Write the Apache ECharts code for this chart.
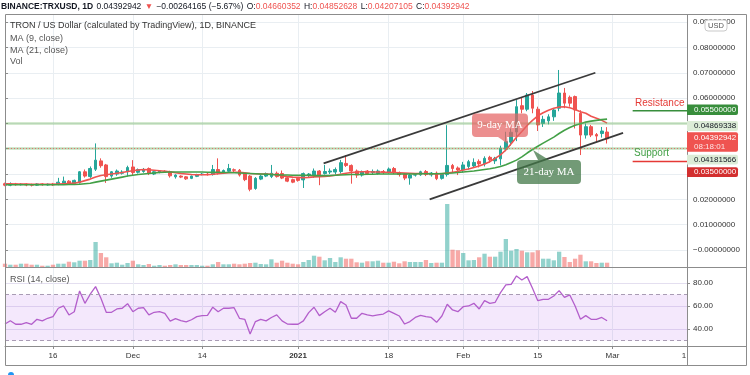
<!DOCTYPE html>
<html><head><meta charset="utf-8">
<script src="https://cdn.jsdelivr.net/npm/echarts@6/dist/echarts.min.js"></script>
<style>html,body{margin:0;padding:0;background:#fff}#c{width:750px;height:375px}</style>
</head><body><div id="c"></div>
<script>
// ---------- DATA ----------
const firstDay = [2020, 10, 7];        // 7 Nov 2020
const slotCount = 129;                 // 7 Nov 2020 .. 15 Mar 2021
const tickDates  = ['2020-11-16','2020-12-01','2020-12-14','2021-01-01','2021-01-18','2021-02-01','2021-02-15','2021-03-01','2021-03-15'];
const tickLabels = ['16','Dec','14','2021','18','Feb','15','Mar','1'];

const opens = [.0262,.0256,.0261,.0258,.0260,.0258,.0256,.0261,.0257,.0260,.0259,.0264,.0272,.0263,.0266,.0309,.0290,.0319,.0352,.0336,
.0292,.0300,.0303,.0309,.0328,.0307,.0310,.0322,.0300,.0308,.0311,.0310,.0289,.0292,.0289,.0283,.0291,.0298,.0300,.0298,
.0318,.0306,.0311,.0317,.0315,.0302,.0292,.0243,.0280,.0292,.0290,.0303,.0302,.0285,.0278,.0283,.0277,.0294,.0296,.0312,
.0302,.0308,.0308,.0310,.0342,.0334,.0312,.0296,.0312,.0306,.0302,.0310,.0308,.0322,.0306,.0300,.0284,.0296,.0297,.0310,
.0297,.0304,.0283,.0298,.0334,.0324,.0316,.0330,.0332,.0350,.0340,.0366,.0352,.0360,.0398,.0426,.0466,.0570,.0556,.0612,
.0556,.0500,.0510,.0526,.0560,.0620,.0603,.0606,.0540,.0454,.0487,.0456,.0460,.04660352];
const closes = [.0256,.0261,.0258,.0260,.0257,.0256,.0261,.0258,.0260,.0257,.0268,.0272,.0262,.0275,.0309,.0292,.0322,.0355,.0333,.0290,
.0309,.0312,.0308,.0326,.0306,.0318,.0318,.0303,.0309,.0312,.0310,.0293,.0296,.0288,.0281,.0292,.0298,.0300,.0298,.0318,
.0305,.0314,.0322,.0315,.0296,.0278,.0240,.0283,.0292,.0302,.0303,.0290,.0284,.0272,.0268,.0275,.0302,.0300,.0312,.0290,
.0310,.0312,.0318,.0345,.0334,.0312,.0296,.0309,.0302,.0310,.0312,.0308,.0320,.0306,.0298,.0284,.0296,.0297,.0309,.0298,
.0304,.0282,.0299,.0334,.0322,.0316,.0336,.0349,.0346,.0340,.0362,.0356,.0362,.0402,.0428,.0465,.0566,.0556,.0612,.0560,
.0494,.0516,.0526,.0553,.0620,.0580,.0580,.0553,.0454,.0487,.0454,.0450,.0470,.04392942];
const lows = [.0252,.0252,.0254,.0255,.0252,.0251,.0253,.0254,.0254,.0253,.0256,.0258,.0258,.0260,.0262,.0286,.0285,.0312,.0325,.0265,
.0285,.0293,.0298,.0290,.0296,.0302,.0305,.0296,.0296,.0303,.0305,.0286,.0282,.0284,.0277,.0280,.0288,.0295,.0294,.0294,
.0298,.0300,.0306,.0308,.0290,.0272,.0232,.0238,.0276,.0288,.0284,.0286,.0280,.0268,.0264,.0270,.0245,.0288,.0285,.0256,
.0298,.0300,.0298,.0302,.0328,.0262,.0285,.0290,.0296,.0298,.0298,.0300,.0302,.0300,.0290,.0276,.0258,.0290,.0293,.0292,
.0290,.0276,.0278,.0290,.0306,.0296,.0306,.0318,.0326,.0326,.0330,.0346,.0340,.0334,.0390,.0412,.0430,.0540,.0548,.0540,
.0470,.0486,.0496,.0510,.0548,.0560,.0566,.0480,.0375,.0440,.0446,.0428,.0444,.04207105];
const highs = [.0266,.0267,.0265,.0264,.0263,.0262,.0264,.0264,.0263,.0265,.0285,.0290,.0276,.0278,.0312,.0318,.0330,.0421,.0362,.0340,
.0312,.0318,.0315,.0333,.0355,.0322,.0324,.0326,.0314,.0316,.0315,.0313,.0299,.0295,.0292,.0294,.0301,.0304,.0305,.0336,
.0362,.0318,.0340,.0322,.0320,.0306,.0296,.0288,.0296,.0306,.0336,.0310,.0314,.0289,.0282,.0287,.0306,.0304,.0322,.0316,
.0336,.0322,.0326,.0356,.0375,.0338,.0318,.0314,.0316,.0318,.0318,.0316,.0326,.0328,.0310,.0304,.0300,.0302,.0313,.0316,
.0308,.0310,.0304,.0493,.0340,.0330,.0348,.0356,.0362,.0358,.0370,.0372,.0368,.0412,.0467,.0480,.0592,.0602,.0620,.0628,
.0566,.0530,.0536,.0560,.0711,.0640,.0610,.0610,.0552,.0500,.0494,.0462,.0486,.04852628];
const ma9 = [.0262,.0262,.0261,.0261,.0261,.0260,.0260,.0260,.0260,.0260,.0261,.0262,.0263,.0264,
.0268,.0274,.0280,.0288,.0294,.0297,.0300,.0303,.0306,.0310,.0313,.0316,.0318,.0317,
.0315,.0313,.0311,.0309,.0305,.0302,.0300,.0298,.0297,.0297,.0297,.0299,.0301,.0303,
.0305,.0307,.0307,.0305,.0302,.0301,.0300,.0300,.0299,.0296,.0293,.0290,.0288,.0287,
.0286,.0287,.0289,.0290,.0291,.0293,.0295,.0299,.0303,.0306,.0308,.0309,.0309,.0308,
.0308,.0307,.0307,.0306,.0305,.0304,.0303,.0302,.0302,.0302,.0301,.0300,.0301,.0304,
.0307,.0310,.0316,.0320,.0326,.0332,.0340,.0349,.0362,.0376,.0395,.0420,.0445,.0468,.0492,.0512,
.0530,.0542,.0552,.0560,.0565,.0566,.0562,.0555,.0546,.0540,.0528,.0520,.0512,.0501];
const ma21 = [.0258,.0258,.0258,.0258,.0258,.0258,.0258,.0258,.0258,.0258,.0258,.0258,.0259,.0259,
.0260,.0262,.0264,.0268,.0272,.0276,.0280,.0284,.0288,.0292,.0295,.0298,.0300,.0302,
.0304,.0306,.0307,.0308,.0308,.0308,.0308,.0308,.0308,.0308,.0307,.0307,.0307,.0306,
.0306,.0305,.0304,.0303,.0302,.0301,.0300,.0299,.0298,.0297,.0296,.0296,.0295,.0295,
.0295,.0295,.0294,.0294,.0294,.0294,.0295,.0296,.0297,.0298,.0298,.0298,.0299,.0299,
.0300,.0300,.0300,.0300,.0300,.0300,.0300,.0300,.0301,.0301,.0301,.0301,.0302,.0303,
.0304,.0306,.0308,.0310,.0312,.0315,.0318,.0321,.0325,.0330,.0337,.0346,.0355,.0368,.0383,.0397,
.0410,.0422,.0434,.0446,.0460,.0473,.0484,.0493,.0499,.0505,.0509,.0512,.0515,.0517];
const volumes = [132,92,92,132,132,92,92,52,52,92, 132,132,212,188,252,252,280,1000,560,388,
148,172,92,160,252,108,80,120,52,80, 52,80,108,80,80,80,80,52,52,108,
200,108,108,132,108,132,160,172,120,108, 308,172,252,172,132,108,200,280,452,412,
268,360,200,388,332, 332,188,172,228,228,252,172,172,212,148,
228,200,200,200,280,160,172,172,2520,692, 668,560,268,280,388,532,412,412,612,1120,
652,720,652,588,588,668,332,332,268,612, 400,200,332,492,228,228,160,172,172];
const rsi = [44.3,47.2,44.1,44.1,45.5,44.1,48.4,47.0,49.3,50.7, 58.0,60.0,52.2,55.0,73.0,62.3,70.2,76.8,66.7,54.5,
54.5,57.4,58.0,62.0,55.0,58.0,58.5,52.2,54.5,55.0, 53.6,46.9,49.0,47.2,46.1,48.0,50.7,51.6,51.8,58.9,
55.0,58.0,58.0,58.5,49.3,48.4,35.7,46.4,48.4,47.0, 50.0,52.2,47.0,44.3,44.1,44.1,47.0,54.2,58.9,51.6,
55.0,58.0,54.5,63.8,60.9, 49.3,49.3,53.6,52.2,51.3,52.2,53.0,55.7,53.6,51.3,
44.3,46.4,50.0,51.9,50.7,50.0,45.8,51.3,61.5,56.5, 55.0,59.4,60.0,62.3,57.4,64.6,62.3,63.2,71.6,78.3,
78.8,86.1,82.6,85.5,75.4,64.6,65.8,65.8,68.7,73.3, 67.5,69.6,60.0,48.4,51.6,48.4,48.4,50.0,47.2];
// drawn annotations: [day index, price]
const upperChannel = [[59.8, .0342], [110.8, .0700]];
const lowerChannel = [[79.7, .0200], [116.0, .0463]];
const resistanceLevel = .055, supportLevel = .035;
const levelStart = 117.8, levelEnd = 128;
const hLines = [.04869338, .04181566];
const lastPrice = .04392942;
const priceTicks = [0, .01, .02, .03, .04, .05, .06, .07, .08, .09];
const priceTickLabels = [0, .01, .02, .06, .07, .08, .09];
const rsiTicks = [40, 60, 80];

// ---------- BUILD ----------
const dates = [];
for (let i = 0; i < slotCount; i++) {
  dates.push(new Date(Date.UTC(firstDay[0], firstDay[1], firstDay[2] + i)).toISOString().slice(0, 10));
}
const tickSet = new Set(tickDates);
const labelMap = {}; tickDates.forEach((d, i) => labelMap[d] = tickLabels[i]);
const candles = opens.map((o, i) => [o, closes[i], lows[i], highs[i]]);
const volData = volumes.map((v, i) => ({
  value: v,
  itemStyle: { color: closes[i] >= opens[i] ? 'rgba(38,166,154,0.5)' : 'rgba(239,83,80,0.5)' }
}));

const FONT = 'Liberation Sans';
const gridLine = { show: true, lineStyle: { color: '#e9eef2', width: 1 } };
const frame = '#8c8c8c';

const option = {
  animation: false,
  backgroundColor: '#fff',
  textStyle: { fontFamily: FONT },
  grid: [
    { left: 5, top: 14, width: 682, height: 253, outerBoundsMode: 'none' },
    { left: 5, top: 268, width: 682, height: 78, outerBoundsMode: 'none' }
  ],
  xAxis: [
    { type: 'category', gridIndex: 0, data: dates, boundaryGap: false,
      axisLine: { show: false }, axisTick: { show: false }, axisLabel: { show: false },
      splitLine: { show: true, interval: (i, v) => tickSet.has(v), lineStyle: { color: '#e9eef2' } } },
    { type: 'category', gridIndex: 1, data: dates, boundaryGap: false,
      axisLine: { show: true, lineStyle: { color: frame } },
      axisTick: { show: true, length: 3, interval: (i, v) => tickSet.has(v), lineStyle: { color: frame } },
      axisLabel: { show: true, interval: (i, v) => tickSet.has(v), margin: 6, color: '#333', fontSize: 8, fontFamily: FONT,
        formatter: v => v === '2021-01-01' ? '{b|2021}' : (v === '2021-03-15' ? '{r|1}' : labelMap[v]),
        rich: { b: { fontWeight: 'bold', fontSize: 8, color: '#333', fontFamily: FONT },
                r: { fontSize: 8, color: '#333', padding: [0, 6, 0, 0], fontFamily: FONT } } },
      splitLine: { show: true, interval: (i, v) => tickSet.has(v), lineStyle: { color: '#e9eef2' } } },
    { type: 'value', gridIndex: 0, min: 0, max: slotCount - 1, show: false }
  ],
  yAxis: [
    { type: 'value', gridIndex: 0, position: 'right', min: -0.0067, max: 0.0932, scale: true,
      axisLine: { show: false },
      axisTick: { show: true, length: 3, customValues: priceTicks, lineStyle: { color: frame } },
      axisLabel: { show: true, customValues: priceTickLabels, margin: 6, color: '#333', fontSize: 8, fontFamily: FONT,
        formatter: v => Math.abs(v) < 1e-9 ? '\u22120.00000000' : v.toFixed(8) },
      splitLine: gridLine },
    { type: 'value', gridIndex: 0, min: 0, max: 10120, show: false },
    { type: 'value', gridIndex: 1, position: 'right', min: 25.2, max: 93,
      axisLine: { show: false },
      axisTick: { show: true, length: 3, customValues: rsiTicks, lineStyle: { color: frame } },
      axisLabel: { show: true, customValues: rsiTicks, margin: 6, color: '#333', fontSize: 8, fontFamily: FONT,
        formatter: v => v.toFixed(2) },
      splitLine: { show: true, lineStyle: { color: '#e4dff0' } } }
  ],
  series: [
    { type: 'bar', name: 'Vol', xAxisIndex: 0, yAxisIndex: 1, data: volData, barWidth: 4.3, z: 1, silent: true },
    { type: 'candlestick', name: 'TRXUSD', xAxisIndex: 0, yAxisIndex: 0, data: candles, barWidth: 3.3, z: 3,
      itemStyle: { color: '#26a69a', color0: '#ef5350', borderColor: '#26a69a', borderColor0: '#ef5350', borderWidth: 1 },
      markLine: { silent: true, symbol: 'none', label: { show: false },
        data: [
          { yAxis: hLines[0], lineStyle: { color: 'rgba(110,180,95,0.4)', width: 2.5, type: 'solid' } },
          { yAxis: hLines[1], lineStyle: { color: 'rgba(110,180,95,0.4)', width: 2.5, type: 'solid' } },
          { yAxis: lastPrice, lineStyle: { color: 'rgba(239,83,80,0.75)', width: 1, type: [1, 2] } }
        ] } },
    { type: 'line', name: 'MA9', xAxisIndex: 0, yAxisIndex: 0, data: ma9, showSymbol: false, z: 4,
      lineStyle: { color: '#ef5350', width: 1.6 }, itemStyle: { color: '#ef5350' } },
    { type: 'line', name: 'MA21', xAxisIndex: 0, yAxisIndex: 0, data: ma21, showSymbol: false, z: 4,
      lineStyle: { color: '#43a047', width: 1.6 }, itemStyle: { color: '#43a047' } },
    { type: 'line', xAxisIndex: 2, yAxisIndex: 0, data: upperChannel, showSymbol: false, z: 5,
      lineStyle: { color: '#3a3a3a', width: 1.8 } },
    { type: 'line', xAxisIndex: 2, yAxisIndex: 0, data: lowerChannel, showSymbol: false, z: 5,
      lineStyle: { color: '#3a3a3a', width: 1.8 } },
    { type: 'line', xAxisIndex: 2, yAxisIndex: 0, data: [[levelStart, resistanceLevel], [levelEnd, resistanceLevel]],
      showSymbol: false, z: 5, lineStyle: { color: '#388e3c', width: 1.5 } },
    { type: 'line', xAxisIndex: 2, yAxisIndex: 0, data: [[levelStart, supportLevel], [levelEnd, supportLevel]],
      showSymbol: false, z: 5, lineStyle: { color: '#e53935', width: 1.5 } },
    { type: 'line', name: 'RSI', xAxisIndex: 1, yAxisIndex: 2, data: rsi, showSymbol: false, z: 4,
      lineStyle: { color: '#b35ecb', width: 1.3 }, itemStyle: { color: '#b35ecb' },
      markArea: { silent: true, itemStyle: { color: 'rgba(170,80,230,0.13)' }, data: [[{ yAxis: 30 }, { yAxis: 70 }]] },
      markLine: { silent: true, symbol: 'none', label: { show: false },
        lineStyle: { color: '#a99cb4', type: [4, 3], width: 1 }, data: [{ yAxis: 70 }, { yAxis: 30 }] } }
  ],
  graphic: [
    // header line
    { type: 'text', left: 1, top: 1, z: 50, style: {
        text: '{b|BINANCE:TRXUSD, 1D} {n|0.04392942} {r|\u25BC} {n|\u22120.00264165 (\u22125.67%)} {n|O:}{r|0.04660352} {n|H:}{r|0.04852628} {n|L:}{r|0.04207105} {n|C:}{r|0.04392942}',
        rich: {
          b: { fontWeight: 'bold', fontSize: 8.5, fill: '#131722', fontFamily: FONT },
          n: { fontSize: 8.5, fill: '#131722', fontFamily: FONT },
          r: { fontSize: 8.5, fill: '#ef5350', fontFamily: FONT }
        } } },
    // legends
    { type: 'text', x: 10, y: 26, z: 50, style: { text: 'TRON / US Dollar (calculated by TradingView), 1D, BINANCE', fill: '#333', font: '9px "Liberation Sans"', verticalAlign: 'middle' } },
    { type: 'text', x: 10, y: 38.5, z: 50, style: { text: 'MA (9, close)', fill: '#555', font: '9px "Liberation Sans"', verticalAlign: 'middle' } },
    { type: 'text', x: 10, y: 50.3, z: 50, style: { text: 'MA (21, close)', fill: '#555', font: '9px "Liberation Sans"', verticalAlign: 'middle' } },
    { type: 'text', x: 10, y: 62, z: 50, style: { text: 'Vol', fill: '#555', font: '9px "Liberation Sans"', verticalAlign: 'middle' } },
    { type: 'text', x: 10, y: 280, z: 50, style: { text: 'RSI (14, close)', fill: '#555', font: '9px "Liberation Sans"', verticalAlign: 'middle' } },
    // frame
    { type: 'rect', z: 40, shape: { x: 5.5, y: 14.5, width: 741, height: 351 }, style: { fill: 'none', stroke: frame, lineWidth: 1 } },
    { type: 'line', z: 40, shape: { x1: 687.5, y1: 14, x2: 687.5, y2: 366 }, style: { stroke: frame, lineWidth: 1 } },
    { type: 'line', z: 40, shape: { x1: 5, y1: 267.5, x2: 746, y2: 267.5 }, style: { stroke: frame, lineWidth: 1 } },
    { type: 'line', z: 40, shape: { x1: 5, y1: 346.5, x2: 746, y2: 346.5 }, style: { stroke: frame, lineWidth: 1 } },
    // USD box
    { type: 'rect', z: 45, shape: { x: 705, y: 20, width: 22, height: 11, r: 3 }, style: { fill: '#fff', stroke: '#c9c9c9', lineWidth: 1 } },
    { type: 'text', z: 46, x: 716, y: 25.8, style: { text: 'USD', fill: '#555', font: '7.5px "Liberation Sans"', align: 'center', verticalAlign: 'middle' } },
    // price labels
    { type: 'rect', z: 45, shape: { x: 687, y: 104.5, width: 51, height: 10.5, r: [0, 2, 2, 0] }, style: { fill: '#388e3c' } },
    { type: 'text', z: 46, x: 694, y: 110, style: { text: '0.05500000', fill: '#fff', font: '8px "Liberation Sans"', verticalAlign: 'middle' } },
    { type: 'rect', z: 45, shape: { x: 687, y: 121, width: 51, height: 10, r: [0, 2, 2, 0] }, style: { fill: '#dcecd7' } },
    { type: 'text', z: 46, x: 694, y: 126.2, style: { text: '0.04869338', fill: '#131722', font: '8px "Liberation Sans"', verticalAlign: 'middle' } },
    { type: 'rect', z: 45, shape: { x: 687, y: 132.3, width: 51, height: 19.5, r: [0, 2, 2, 0] }, style: { fill: '#ef5350' } },
    { type: 'text', z: 46, x: 694, y: 138, style: { text: '0.04392942', fill: '#fff', font: '8px "Liberation Sans"', verticalAlign: 'middle' } },
    { type: 'text', z: 46, x: 694, y: 146.3, style: { text: '08:18:01', fill: 'rgba(255,255,255,0.85)', font: '8px "Liberation Sans"', verticalAlign: 'middle' } },
    { type: 'rect', z: 45, shape: { x: 687, y: 154.8, width: 51, height: 9.8, r: [0, 2, 2, 0] }, style: { fill: '#dcecd7' } },
    { type: 'text', z: 46, x: 694, y: 159.8, style: { text: '0.04181566', fill: '#131722', font: '8px "Liberation Sans"', verticalAlign: 'middle' } },
    { type: 'rect', z: 45, shape: { x: 687, y: 167.2, width: 51, height: 9.8, r: [0, 2, 2, 0] }, style: { fill: '#d32f2f' } },
    { type: 'text', z: 46, x: 694, y: 172.2, style: { text: '0.03500000', fill: '#fff', font: '8px "Liberation Sans"', verticalAlign: 'middle' } },
    // resistance / support texts
    { type: 'text', z: 46, x: 635, y: 103, style: { text: 'Resistance', fill: '#e53935', font: '10px "Liberation Sans"', verticalAlign: 'middle' } },
    { type: 'text', z: 46, x: 634, y: 153, style: { text: 'Support', fill: '#43a047', font: '10px "Liberation Sans"', verticalAlign: 'middle' } },
    // 9-day MA callout
    { type: 'polygon', z: 46, shape: { points: [[498, 137], [507, 137], [508, 144]] }, style: { fill: 'rgba(229,100,100,0.72)' } },
    { type: 'rect', z: 46, shape: { x: 472, y: 113.5, width: 56, height: 23.5, r: 4 }, style: { fill: 'rgba(229,100,100,0.72)' } },
    { type: 'text', z: 47, x: 500, y: 125.5, style: { text: '9-day MA', fill: '#fff', font: '11px "Liberation Serif"', align: 'center', verticalAlign: 'middle' } },
    // 21-day MA callout
    { type: 'polygon', z: 46, shape: { points: [[533, 150], [538, 160], [549, 160]] }, style: { fill: 'rgba(67,120,72,0.75)' } },
    { type: 'rect', z: 46, shape: { x: 517, y: 160, width: 64, height: 24, r: 4 }, style: { fill: 'rgba(67,120,72,0.75)' } },
    { type: 'text', z: 47, x: 549, y: 172, style: { text: '21-day MA', fill: '#fff', font: '11px "Liberation Serif"', align: 'center', verticalAlign: 'middle' } },
    // logo dot
    { type: 'circle', z: 46, shape: { cx: 11, cy: 375, r: 3 }, style: { fill: '#2196f3' } }
  ]
};
const chart = echarts.init(document.getElementById('c'));
chart.setOption(option);
</script>
</body></html>
